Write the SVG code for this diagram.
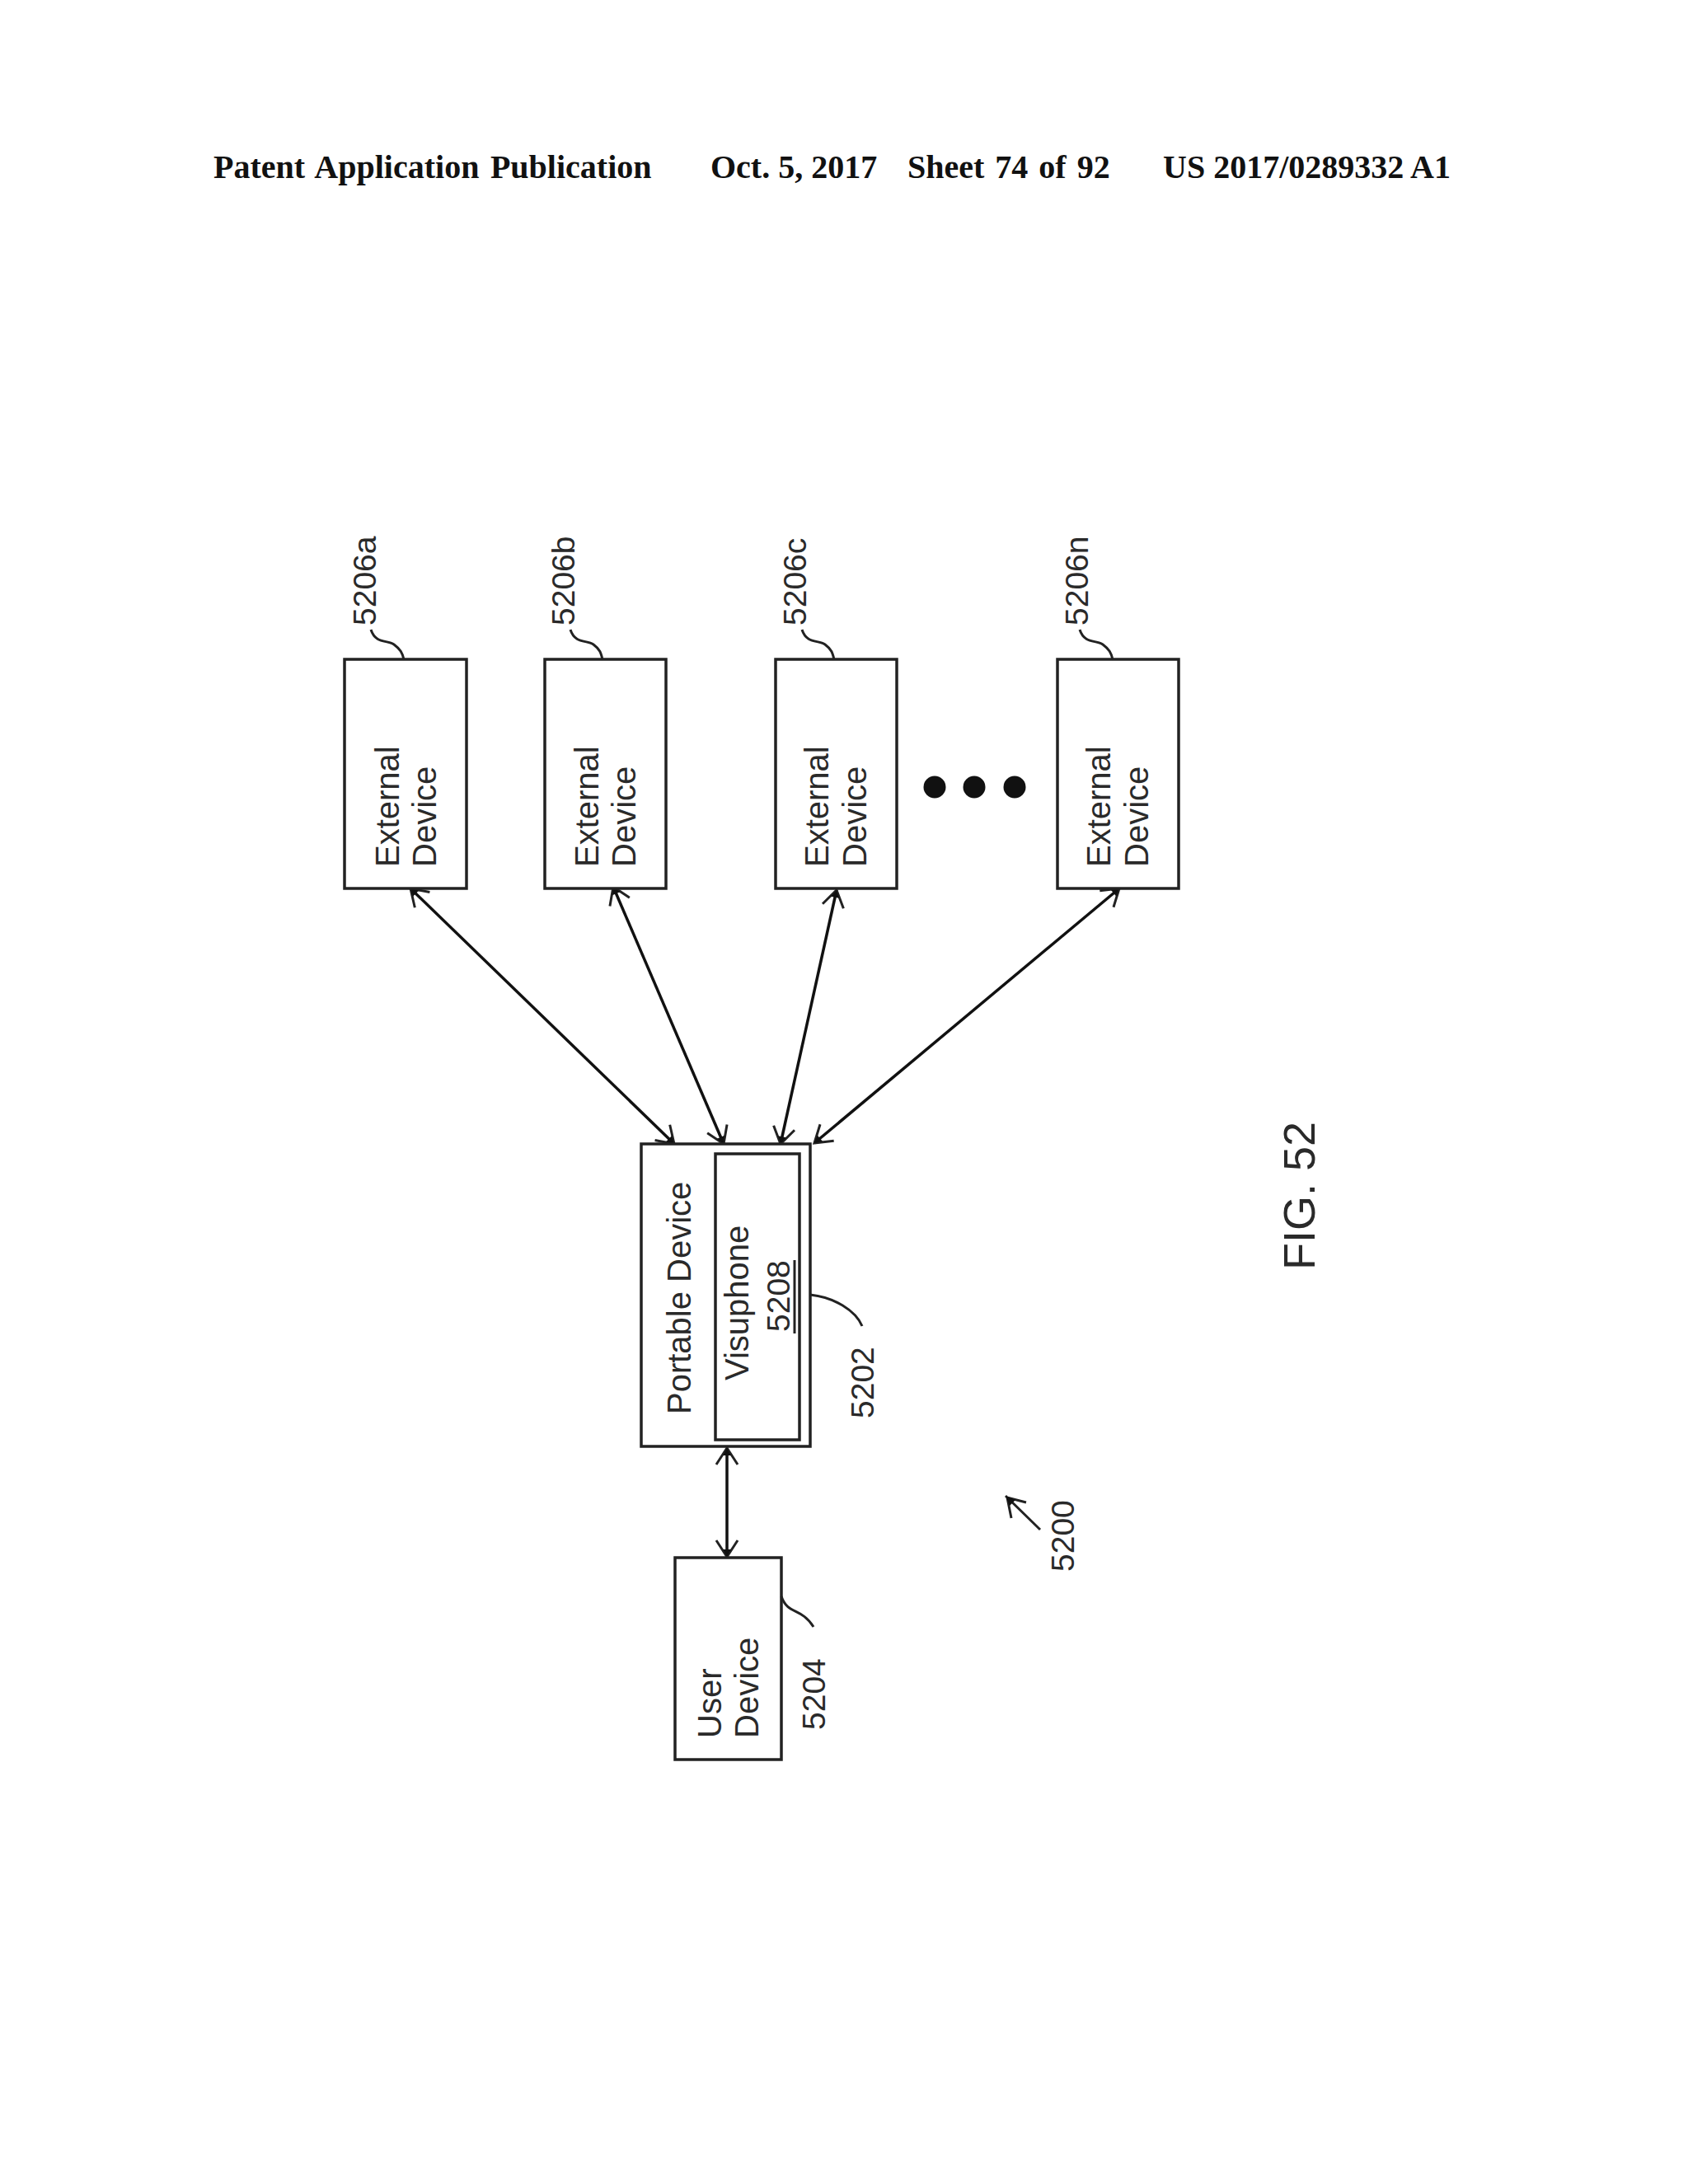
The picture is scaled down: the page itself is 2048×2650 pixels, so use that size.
<svg xmlns="http://www.w3.org/2000/svg" width="2048" height="2650" viewBox="0 0 2048 2650">
<style>
.hd{font-family:"Liberation Serif","Times New Roman",serif;font-weight:bold;font-size:40px;fill:#111}
.t{font-family:"Liberation Sans",Arial,sans-serif;font-size:40px;fill:#2a2a2a}
.r{font-family:"Liberation Sans",Arial,sans-serif;font-size:39px;fill:#2a2a2a}
.f{font-family:"Liberation Sans",Arial,sans-serif;font-size:54px;fill:#2a2a2a}
.b{fill:#fff;stroke:#222;stroke-width:3.5}
.l{fill:none;stroke:#222;stroke-width:3}
.a{fill:none;stroke:#111;stroke-width:3.5;marker-start:url(#h);marker-end:url(#h)}
</style>
<defs>
<marker id="h" markerUnits="userSpaceOnUse" markerWidth="36" markerHeight="40" refX="30" refY="20" orient="auto-start-reverse">
<path d="M10 7 L30 20 L10 33" fill="none" stroke="#222" stroke-width="3"/>
<path d="M21 15 L30 20 L21 25 Z" fill="#111"/>
</marker>
</defs>
<rect width="2048" height="2650" fill="#fff"/>
<g id="header">
<text class="hd" x="259" y="216" word-spacing="3.5">Patent Application Publication</text>
<text class="hd" x="862" y="216">Oct. 5, 2017</text>
<text class="hd" x="1101" y="216" word-spacing="3">Sheet 74 of 92</text>
<text class="hd" x="1411" y="216">US 2017/0289332 A1</text>
</g>
<g id="connectors">
<line class="a" x1="498" y1="1078" x2="818" y2="1388"/>
<line class="a" x1="744" y1="1076" x2="878" y2="1388"/>
<line class="a" x1="1015" y1="1080" x2="947" y2="1388"/>
<line class="a" x1="1358" y1="1078" x2="988" y2="1387"/>
<line class="a" x1="882" y1="1757" x2="882" y2="1889"/>
</g>
<g id="n5206a">
<rect class="b" x="418" y="800" width="148" height="278"/>
<text class="t" transform="translate(484 1052) rotate(-90)">External</text>
<text class="t" transform="translate(529 1052) rotate(-90)">Device</text>
<text class="r" transform="translate(456 759) rotate(-90)">5206a</text>
<path class="l" d="M450 764 C456 782 470 776 478 782 C486 788 488 792 490 800"/>
</g>
<g id="n5206b">
<rect class="b" x="661" y="800" width="147" height="278"/>
<text class="t" transform="translate(726 1052) rotate(-90)">External</text>
<text class="t" transform="translate(771 1052) rotate(-90)">Device</text>
<text class="r" transform="translate(697 759) rotate(-90)">5206b</text>
<path class="l" d="M692 764 C698 782 712 776 720 782 C728 788 729 792 731 800"/>
</g>
<g id="n5206c">
<rect class="b" x="941" y="800" width="147" height="278"/>
<text class="t" transform="translate(1005 1052) rotate(-90)">External</text>
<text class="t" transform="translate(1051 1052) rotate(-90)">Device</text>
<text class="r" transform="translate(978 759) rotate(-90)">5206c</text>
<path class="l" d="M973 764 C979 782 993 776 1001 782 C1009 788 1010 792 1012 800"/>
</g>
<g id="dots" fill="#111">
<circle cx="1134" cy="955" r="13.5"/>
<circle cx="1182" cy="955" r="13.5"/>
<circle cx="1231" cy="955" r="13.5"/>
</g>
<g id="n5206n">
<rect class="b" x="1283" y="800" width="147" height="278"/>
<text class="t" transform="translate(1347 1052) rotate(-90)">External</text>
<text class="t" transform="translate(1393 1052) rotate(-90)">Device</text>
<text class="r" transform="translate(1320 759) rotate(-90)">5206n</text>
<path class="l" d="M1310 764 C1316 782 1330 776 1338 782 C1346 788 1348 792 1350 800"/>
</g>
<g id="n5202">
<rect class="b" x="778" y="1388" width="205" height="367"/>
<text class="t" transform="translate(838 1716) rotate(-90)">Portable Device</text>
<text class="r" transform="translate(1060 1721) rotate(-90)">5202</text>
<path class="l" d="M983 1571 C1012 1574 1038 1590 1046 1609"/>
</g>
<g id="n5208">
<rect class="b" x="868" y="1400" width="102" height="347"/>
<text class="t" transform="translate(908 1675) rotate(-90)">Visuphone</text>
<text class="r" transform="translate(958 1616) rotate(-90)">5208</text>
<line class="l" x1="964" y1="1529" x2="964" y2="1618"/>
</g>
<g id="n5204">
<rect class="b" x="819" y="1890" width="129" height="245"/>
<text class="t" transform="translate(875 2109) rotate(-90)">User</text>
<text class="t" transform="translate(920 2109) rotate(-90)">Device</text>
<text class="r" transform="translate(1001 2099) rotate(-90)">5204</text>
<path class="l" d="M948 1937 C956 1960 972 1950 987 1974"/>
</g>
<g id="n5200">
<text class="r" transform="translate(1303 1907) rotate(-90)">5200</text>
<path class="l" d="M1262 1856 L1220 1815 M1227 1842 L1222 1817 L1245 1823"/>
<path d="M1220 1815 L1232 1820 L1225 1827 Z" fill="#111"/>
</g>
<g id="caption">
<text class="f" transform="translate(1595 1541) rotate(-90)">FIG. 52</text>
</g>
</svg>
